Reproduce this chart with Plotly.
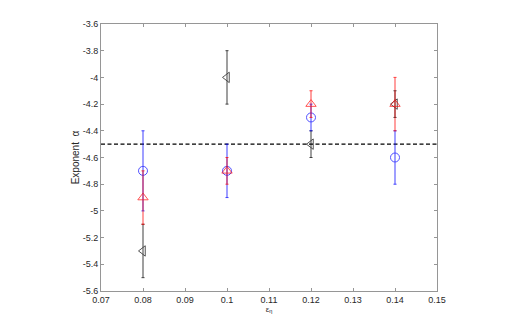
import plotly.graph_objects as go

x = [0.08, 0.10, 0.12, 0.14]

# three series: value and symmetric error
blue_y = [-4.7, -4.7, -4.3, -4.6]
blue_err = [0.3, 0.2, 0.1, 0.2]
red_y = [-4.9, -4.7, -4.2, -4.2]
red_err = [0.2, 0.1, 0.1, 0.2]
black_y = [-5.3, -4.0, -4.5, -4.2]
black_err = [0.2, 0.2, 0.1, 0.1]

ref_level = -4.5
x_ticks = [0.07, 0.08, 0.09, 0.10, 0.11, 0.12, 0.13, 0.14, 0.15]
x_labels = ["0.07", "0.08", "0.09", "0.1", "0.11", "0.12", "0.13", "0.14", "0.15"]
y_ticks = [-3.6, -3.8, -4.0, -4.2, -4.4, -4.6, -4.8, -5.0, -5.2, -5.4, -5.6]
y_labels = ["-3.6", "-3.8", "-4", "-4.2", "-4.4", "-4.6", "-4.8", "-5", "-5.2", "-5.4", "-5.6"]

series = [
    (black_y, black_err, "rgb(0,0,0)", "triangle-left-open"),
    (blue_y, blue_err, "rgb(0,0,255)", "circle-open"),
    (red_y, red_err, "rgb(255,0,0)", "triangle-up-open"),
]

fig = go.Figure()

fig.add_trace(go.Scatter(x=[0.07, 0.15], y=[ref_level, ref_level], mode="lines",
                         line=dict(color="black", width=1.3, dash="4px,2.5px"),
                         showlegend=False, hoverinfo="skip"))

for ys, es, col, sym in series:
    fig.add_trace(go.Scatter(
        x=x, y=ys, mode="markers",
        marker=dict(symbol=sym, size=9, color=col, line=dict(color=col, width=0.9)),
        error_y=dict(type="data", array=es, color=col, thickness=1, width=1.5),
        opacity=0.75,
        showlegend=False))

axis_common = dict(showgrid=False, zeroline=False, showline=True, mirror="ticks",
                   linecolor="rgb(150,150,150)", linewidth=1, ticks="inside", ticklen=3,
                   tickcolor="rgb(150,150,150)", automargin=False,
                   tickfont=dict(family="Liberation Sans, Arial", size=9, color="rgb(40,40,40)"))

fig.update_xaxes(range=[0.07, 0.15], tickvals=x_ticks, ticktext=x_labels,
                 title=dict(text="ε<sub>η</sub>", font=dict(family="Liberation Sans", size=8,
                                                           color="rgb(40,40,40)"), standoff=1),
                 **axis_common)
fig.update_yaxes(range=[-5.6, -3.6], tickvals=y_ticks, ticktext=y_labels,
                 title=dict(text="Exponent  α", font=dict(family="Liberation Sans", size=10,
                                                          color="rgb(40,40,40)"), standoff=1),
                 **axis_common)

# page body has an 8px margin, so margins are shifted to compensate
fig.update_layout(width=520, height=327, plot_bgcolor="white", paper_bgcolor="white",
                  margin=dict(l=93, r=91, t=16, b=44))

fig.write_html("out.html")
